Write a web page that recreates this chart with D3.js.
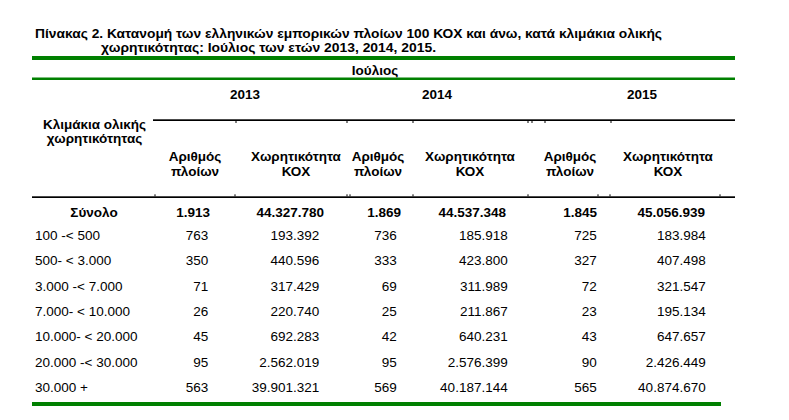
<!DOCTYPE html>
<html>
<head>
<meta charset="utf-8">
<script src="https://cdn.jsdelivr.net/npm/d3@7"></script>
<style>
  html, body { margin: 0; padding: 0; background: #fff; }
  svg { display: block; }
  text { font-family: "Liberation Sans", Arial, sans-serif; fill: #000; }
</style>
</head>
<body>
<svg id="chart" width="789" height="420"></svg>
<script>
// ---- Data ----
const titleLines = [
  "Πίνακας 2. Κατανομή των ελληνικών εμπορικών πλοίων 100 ΚΟΧ και άνω, κατά κλιμάκια ολικής",
  "χωρητικότητας: Ιούλιος των ετών 2013, 2014, 2015."
];
const monthLabel = "Ιούλιος";
const years = ["2013", "2014", "2015"];
const stubHeader = ["Κλιμάκια ολικής", "χωρητικότητας"];
const countHeader = ["Αριθμός", "πλοίων"];
const tonnageHeader = ["Χωρητικότητα", "ΚΟΧ"];
const totalLabel = "Σύνολο";
const categories = ["100 -< 500", "500- < 3.000", "3.000 -< 7.000", "7.000- < 10.000",
                    "10.000- < 20.000", "20.000 -< 30.000", "30.000 +"];

const ships2013   = [763, 350, 71, 26, 45, 95, 563];
const tonnage2013 = [193392, 440596, 317429, 220740, 692283, 2562019, 39901321];
const ships2014   = [736, 333, 69, 25, 42, 95, 569];
const tonnage2014 = [185918, 423800, 311989, 211867, 640231, 2576399, 40187144];
const ships2015   = [725, 327, 72, 23, 43, 90, 565];
const tonnage2015 = [183984, 407498, 321547, 195134, 647657, 2426449, 40874670];

const totalShips   = [1913, 1869, 1845];
const totalTonnage = [44327780, 44537348, 45056939];

// ---- Build ----
const columns = [
  { key: "s2013", values: ships2013,   total: totalShips[0],   header: countHeader },
  { key: "t2013", values: tonnage2013, total: totalTonnage[0], header: tonnageHeader },
  { key: "s2014", values: ships2014,   total: totalShips[1],   header: countHeader },
  { key: "t2014", values: tonnage2014, total: totalTonnage[1], header: tonnageHeader },
  { key: "s2015", values: ships2015,   total: totalShips[2],   header: countHeader },
  { key: "t2015", values: tonnage2015, total: totalTonnage[2], header: tonnageHeader }
];
const colKeys = columns.map(c => c.key);

const locale = d3.formatLocale({ decimal: ",", thousands: ".", grouping: [3], currency: ["", "€"] });
const fmt = locale.format(",d");

const svg = d3.select("#chart");
const FS = 13.5;
const green = "#008000";

// Scales
const xRight = d3.scaleOrdinal().domain(colKeys).range([208.3, 319.3, 396.7, 507.7, 596.7, 705.7]);
const xRightTotal = d3.scaleOrdinal().domain(colKeys).range([210, 324, 401, 506, 597, 705]);
const xHead = d3.scaleOrdinal().domain(colKeys).range([195, 296, 378, 470, 570, 668]);
const xYear = d3.scaleOrdinal().domain(years).range([245, 437, 642]);
const yRow = d3.scalePoint().domain(categories).range([240, 392]);

// Title
svg.append("g").selectAll("text").data(titleLines).join("text")
  .attr("x", (d, i) => i === 0 ? 35 : 101)
  .attr("y", (d, i) => i === 0 ? 37.5 : 52)
  .attr("textLength", (d, i) => i === 0 ? 627 : 335)
  .attr("lengthAdjust", "spacingAndGlyphs")
  .style("font-size", "13px").style("font-weight", "bold")
  .text(d => d);

// Green rules
svg.append("rect").attr("x", 32).attr("y", 56).attr("width", 703).attr("height", 4).attr("fill", green);
svg.append("rect").attr("x", 32).attr("y", 77.5).attr("width", 703).attr("height", 2.5).attr("fill", green);
svg.append("rect").attr("x", 32).attr("y", 402).attr("width", 689).attr("height", 4).attr("fill", green);

// Month header
svg.append("text").attr("x", 375).attr("y", 75).attr("text-anchor", "middle")
  .style("font-size", FS + "px").style("font-weight", "bold").text(monthLabel);

// Years
svg.append("g").selectAll("text").data(years).join("text")
  .attr("x", d => xYear(d)).attr("y", 99.3).attr("text-anchor", "middle")
  .style("font-size", FS + "px").style("font-weight", "bold").text(d => d);

// Black rules
svg.append("rect").attr("x", 153).attr("y", 119.3).attr("width", 582).attr("height", 1.7).attr("fill", "#000");
svg.append("rect").attr("x", 32).attr("y", 196.3).attr("width", 703).attr("height", 1.7).attr("fill", "#000");
// small cell-border stubs
const stubsA = [236, 347, 413, 528, 532, 545, 611];
svg.append("g").selectAll("rect").data(stubsA).join("rect")
  .attr("x", d => d - 0.5).attr("y", 121).attr("width", 1).attr("height", 2).attr("fill", "#000");
const stubsB = [155, 235, 347, 350, 413, 528, 598, 610, 720];
svg.append("g").selectAll("rect").data(stubsB).join("rect")
  .attr("x", d => d - 0.5).attr("y", 194.3).attr("width", 1).attr("height", 2).attr("fill", "#000");

// Stub header
svg.append("g").selectAll("text").data(stubHeader).join("text")
  .attr("x", 94.5).attr("y", (d, i) => 128.8 + i * 14)
  .attr("text-anchor", "middle")
  .style("font-size", FS + "px").style("font-weight", "bold").text(d => d);

// Column headers
const hg = svg.append("g").selectAll("g").data(columns).join("g");
hg.selectAll("text").data(c => c.header.map(t => ({ t, key: c.key }))).join("text")
  .attr("x", d => xHead(d.key)).attr("y", (d, i) => 160.7 + i * 15)
  .attr("text-anchor", "middle")
  .style("font-size", FS + "px").style("font-weight", "bold").text(d => d.t);

// Total row
svg.append("text").attr("x", 94).attr("y", 217.3).attr("text-anchor", "middle")
  .style("font-size", FS + "px").style("font-weight", "bold").text(totalLabel);
svg.append("g").selectAll("text").data(columns).join("text")
  .attr("x", d => xRightTotal(d.key)).attr("y", 217.3).attr("text-anchor", "end")
  .style("font-size", FS + "px").style("font-weight", "bold").text(d => fmt(d.total));

// Category labels
svg.append("g").selectAll("text").data(categories).join("text")
  .attr("x", 35).attr("y", d => yRow(d))
  .style("font-size", FS + "px").text(d => d);

// Body cells
const cg = svg.append("g").selectAll("g").data(columns).join("g");
cg.selectAll("text").data(c => c.values.map((v, i) => ({ v, key: c.key, cat: categories[i] }))).join("text")
  .attr("x", d => xRight(d.key)).attr("y", d => yRow(d.cat))
  .attr("text-anchor", "end")
  .style("font-size", FS + "px").text(d => fmt(d.v));
</script>
</body>
</html>
